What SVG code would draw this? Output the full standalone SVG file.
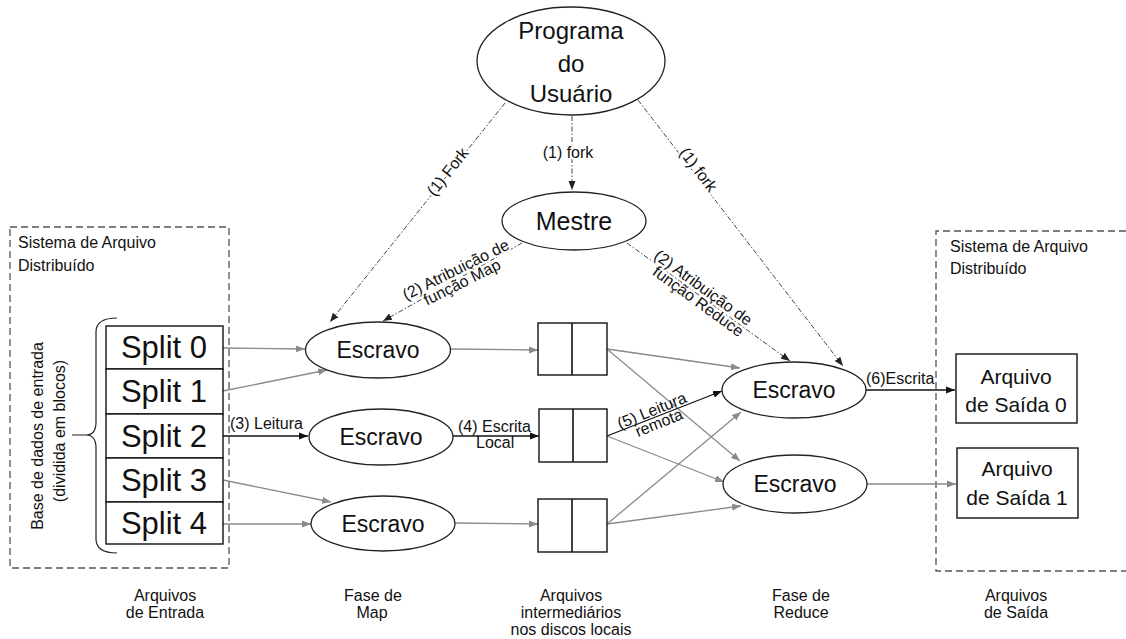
<svg xmlns="http://www.w3.org/2000/svg" width="1126" height="639" viewBox="0 0 1126 639">
<style>
text{font-family:"Liberation Sans",Arial,sans-serif;fill:#111}
.node{fill:#fff;stroke:#222;stroke-width:1.3}
.box{fill:#fff;stroke:#111;stroke-width:1.4}
.fs{fill:none;stroke:#555;stroke-width:1.3;stroke-dasharray:7 4}
.g{stroke:#8a8a8a;stroke-width:1.3;fill:none}
.k{stroke:#111;stroke-width:1.3;fill:none}
.dd{stroke:#444;stroke-width:1;fill:none;stroke-dasharray:5 2 1.5 2}
.big{font-size:31px;text-anchor:middle}
.esc{font-size:23px;text-anchor:middle}
.lbl{font-size:16px}
.halo{font-size:16px;text-anchor:middle;stroke:#fff;stroke-width:4;paint-order:stroke;stroke-linejoin:round}
.bot{font-size:16px;text-anchor:middle}
</style>
<defs>
<marker id="ag" markerUnits="userSpaceOnUse" markerWidth="10" markerHeight="8" refX="9" refY="4" orient="auto"><path d="M0,0.5 L9,4 L0,7.5 z" fill="#8a8a8a"/></marker>
<marker id="ak" markerUnits="userSpaceOnUse" markerWidth="10" markerHeight="8" refX="9" refY="4" orient="auto"><path d="M0,0.5 L9,4 L0,7.5 z" fill="#111"/></marker>
<marker id="ad" markerUnits="userSpaceOnUse" markerWidth="10" markerHeight="8" refX="9" refY="4" orient="auto"><path d="M0,0.5 L9,4 L0,7.5 z" fill="#222"/></marker>
</defs>

<g id="fs-left">
<rect class="fs" x="10" y="227" width="219" height="341"/>
<text class="lbl" x="18" y="248">Sistema de Arquivo</text>
<text class="lbl" x="18" y="271">Distribuído</text>
</g>
<g id="fs-right">
<path class="fs" d="M1126,231 H936 V571 H1126"/>
<text class="lbl" x="950" y="252">Sistema de Arquivo</text>
<text class="lbl" x="950" y="274">Distribuído</text>
</g>

<g id="connectors">
<line class="dd" x1="572" y1="116" x2="572" y2="190" marker-end="url(#ad)"/>
<line class="dd" x1="505" y1="103" x2="330" y2="322" marker-end="url(#ad)"/>
<line class="dd" x1="638" y1="100" x2="843" y2="366" marker-end="url(#ad)"/>
<line class="dd" x1="522" y1="243" x2="383" y2="321" marker-end="url(#ad)"/>
<line class="dd" x1="627" y1="243" x2="790" y2="361" marker-end="url(#ad)"/>

<line class="g" x1="223" y1="348" x2="305" y2="349" marker-end="url(#ag)"/>
<line class="g" x1="223" y1="391" x2="327" y2="370" marker-end="url(#ag)"/>
<line class="k" x1="223" y1="436" x2="308" y2="436" marker-end="url(#ak)"/>
<line class="g" x1="223" y1="480" x2="331" y2="502" marker-end="url(#ag)"/>
<line class="g" x1="223" y1="524" x2="311" y2="524" marker-end="url(#ag)"/>

<line class="g" x1="450" y1="349" x2="538" y2="350" marker-end="url(#ag)"/>
<line class="k" x1="453" y1="436" x2="539" y2="436" marker-end="url(#ak)"/>
<line class="g" x1="455" y1="523" x2="538" y2="524" marker-end="url(#ag)"/>

<line class="g" x1="607" y1="349" x2="740" y2="368" marker-end="url(#ag)"/>
<line class="g" x1="607" y1="349" x2="740" y2="461" marker-end="url(#ag)"/>
<line class="k" x1="607" y1="436" x2="722" y2="391" marker-end="url(#ak)"/>
<line class="g" x1="607" y1="436" x2="724" y2="482" marker-end="url(#ag)"/>
<line class="g" x1="607" y1="524" x2="741" y2="412" marker-end="url(#ag)"/>
<line class="g" x1="607" y1="524" x2="741" y2="506" marker-end="url(#ag)"/>

<line class="k" x1="866" y1="390" x2="955" y2="390" marker-end="url(#ak)"/>
<line class="g" x1="867" y1="484" x2="956" y2="484" marker-end="url(#ag)"/>

<text class="halo" x="568" y="158">(1) fork</text>
<text class="halo" transform="translate(448,172) rotate(-51.5)" x="0" y="5">(1) Fork</text>
<text class="halo" transform="translate(698,170) rotate(52.9)" x="0" y="5">(1) fork</text>
<g transform="translate(456,270) rotate(-26.5)">
<text class="halo" x="0" y="5">(2) Atribuição de</text>
<text class="halo" x="0" y="19">função Map</text>
</g>
<g transform="translate(703,288) rotate(36)">
<text class="halo" x="0" y="5">(2) Atribuição de</text>
<text class="halo" x="4" y="19">função Reduce</text>
</g>
<text class="lbl" x="230" y="429">(3) Leitura</text>
<text class="lbl" x="458" y="432">(4) Escrita</text>
<text class="lbl" x="476" y="448">Local</text>
<g transform="translate(652,411) rotate(-22)">
<text class="lbl" x="0" y="5" text-anchor="middle">(5) Leitura</text>
<text class="lbl" x="2" y="19" text-anchor="middle">remota</text>
</g>
<text class="lbl" x="866" y="384">(6)Escrita</text>
</g>

<g id="programa">
<ellipse class="node" cx="571" cy="61" rx="94" ry="54"/>
<text x="571" y="39" font-size="24" text-anchor="middle">Programa</text>
<text x="571" y="72" font-size="24" text-anchor="middle">do</text>
<text x="571" y="102" font-size="24" text-anchor="middle">Usuário</text>
</g>
<g id="mestre">
<ellipse class="node" cx="574" cy="221" rx="72" ry="29"/>
<text x="574" y="230" font-size="25" text-anchor="middle">Mestre</text>
</g>

<g id="entrada">
<path d="M117,318 Q96,318 96,332 L96,422 Q96,435 86,435 L72,435 M86,435 Q96,435 96,448 L96,539 Q96,553 117,553" fill="none" stroke="#222" stroke-width="1.2"/>
<text class="lbl" transform="translate(43,436) rotate(-90)" text-anchor="middle">Base de dados de entrada</text>
<text class="lbl" transform="translate(65,431) rotate(-90)" text-anchor="middle">(dividida em blocos)</text>
</g>
<g id="split0"><rect class="box" x="106" y="326" width="117" height="43"/><text class="big" x="164" y="358">Split 0</text></g>
<g id="split1"><rect class="box" x="106" y="369" width="117" height="45"/><text class="big" x="164" y="402">Split 1</text></g>
<g id="split2"><rect class="box" x="106" y="414" width="117" height="44"/><text class="big" x="164" y="447">Split 2</text></g>
<g id="split3"><rect class="box" x="106" y="458" width="117" height="44"/><text class="big" x="164" y="491">Split 3</text></g>
<g id="split4"><rect class="box" x="106" y="502" width="117" height="42"/><text class="big" x="164" y="534">Split 4</text></g>

<g id="map1"><ellipse class="node" cx="378" cy="350" rx="72.5" ry="28"/><text class="esc" x="378" y="358">Escravo</text></g>
<g id="map2"><ellipse class="node" cx="381" cy="437" rx="72" ry="28"/><text class="esc" x="381" y="445">Escravo</text></g>
<g id="map3"><ellipse class="node" cx="383" cy="523.5" rx="72" ry="27.5"/><text class="esc" x="383" y="532">Escravo</text></g>

<g id="inter1"><rect class="box" x="538" y="323" width="69" height="52"/><line x1="572" y1="323" x2="572" y2="375" stroke="#111" stroke-width="1.6"/></g>
<g id="inter2"><rect class="box" x="539" y="409" width="68" height="53"/><line x1="573" y1="409" x2="573" y2="462" stroke="#111" stroke-width="1.6"/></g>
<g id="inter3"><rect class="box" x="538" y="499" width="69" height="53"/><line x1="572" y1="499" x2="572" y2="552" stroke="#111" stroke-width="1.6"/></g>

<g id="reduce1"><ellipse class="node" cx="794" cy="390" rx="72" ry="28"/><text class="esc" x="794" y="398">Escravo</text></g>
<g id="reduce2"><ellipse class="node" cx="795" cy="484" rx="72" ry="29"/><text class="esc" x="795" y="492">Escravo</text></g>

<g id="saida0"><rect class="box" x="956" y="354" width="121" height="69"/><text x="1016" y="384" font-size="21" text-anchor="middle">Arquivo</text><text x="1016" y="412" font-size="21" text-anchor="middle">de Saída 0</text></g>
<g id="saida1"><rect class="box" x="957" y="448" width="121" height="70"/><text x="1017" y="476" font-size="21" text-anchor="middle">Arquivo</text><text x="1017" y="505" font-size="21" text-anchor="middle">de Saída 1</text></g>

<g id="legendas">
<text class="bot" x="165" y="601">Arquivos</text>
<text class="bot" x="165" y="618">de Entrada</text>
<text class="bot" x="373" y="601">Fase de</text>
<text class="bot" x="372" y="618">Map</text>
<text class="bot" x="571" y="601">Arquivos</text>
<text class="bot" x="571" y="618">intermediários</text>
<text class="bot" x="571" y="635">nos discos locais</text>
<text class="bot" x="801" y="601">Fase de</text>
<text class="bot" x="801" y="618">Reduce</text>
<text class="bot" x="1016" y="601">Arquivos</text>
<text class="bot" x="1016" y="618">de Saída</text>
</g>
</svg>
